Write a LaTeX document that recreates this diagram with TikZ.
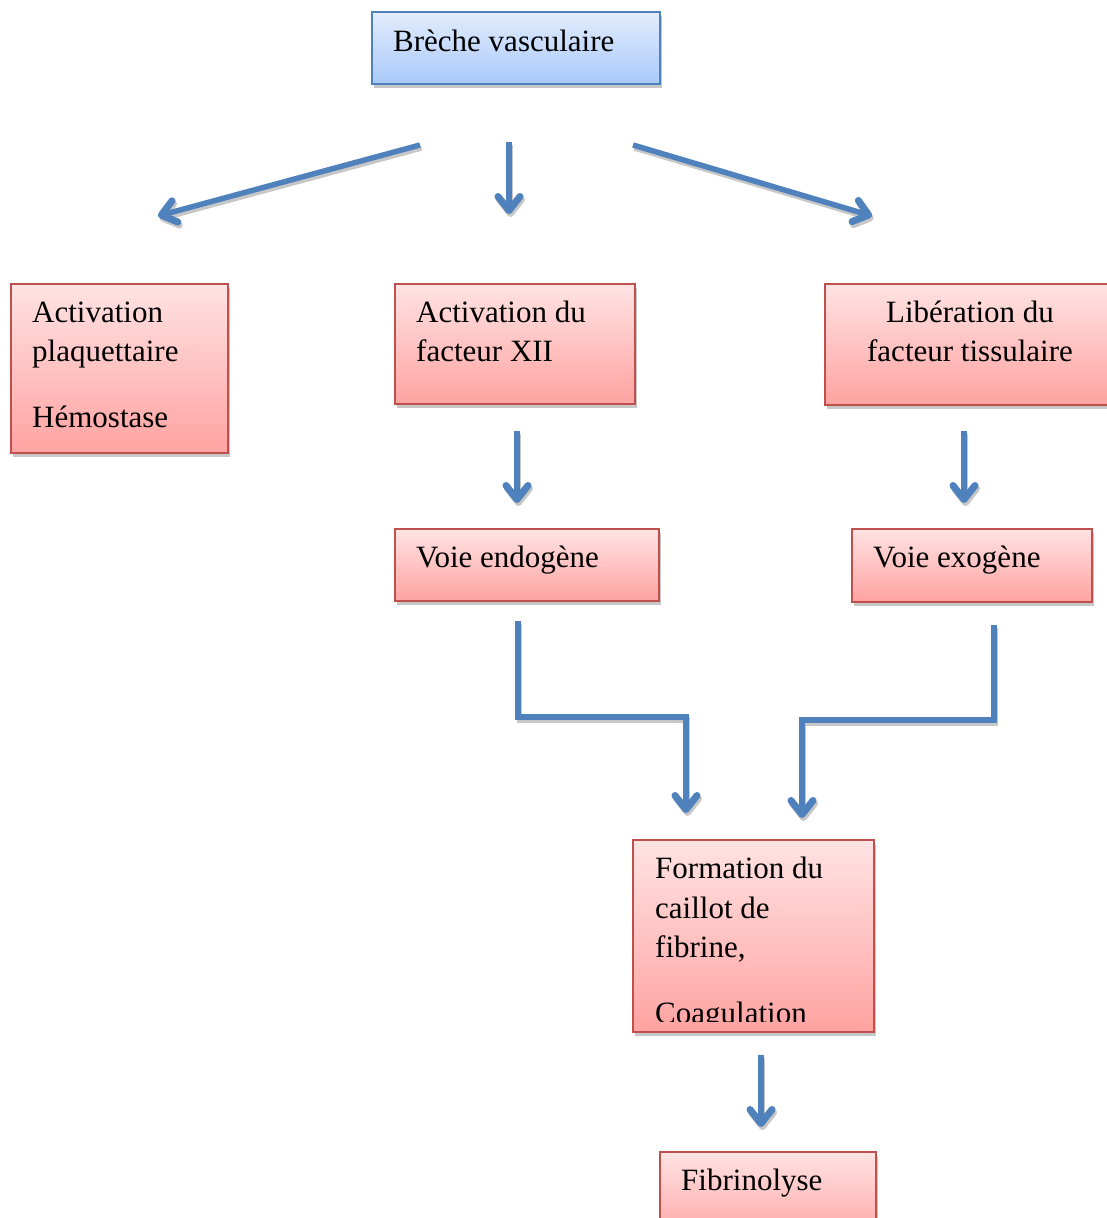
\documentclass[tikz,border=0pt]{standalone}
\usepackage{fontspec}
\setmainfont{Liberation Serif}
\usetikzlibrary{shadows,arrows.meta,calc}
\definecolor{arrowblue}{HTML}{4F81BD}
\definecolor{redborder}{HTML}{C0504D}
\definecolor{redtop}{HTML}{FFE3E3}
\definecolor{redbot}{HTML}{FFA3A1}
\definecolor{bluetop}{HTML}{E3EDFD}
\definecolor{bluebot}{HTML}{A9C9FA}
\begin{document}
\begin{tikzpicture}[x=1pt,y=-1pt,
  boxbase/.style={draw, line width=2pt, inner sep=0pt,
    drop shadow={shadow xshift=2pt, shadow yshift=-4pt, fill=black!22, opacity=1}},
  redbox/.style={boxbase, draw=redborder, top color=redtop, bottom color=redbot},
  bluebox/.style={boxbase, draw=arrowblue, top color=bluetop, bottom color=bluebot},
  txt/.style={anchor=base west, inner sep=0pt, font=\fontsize{31}{40}\selectfont},
  ctxt/.style={anchor=base, inner sep=0pt, font=\fontsize{31}{40}\selectfont},
  conn/.style={draw=arrowblue, line width=5.5pt,
    -{Straight Barb[length=14pt, width=22pt, line width=7pt, round]},
    preaction={draw=black!22, line width=5.5pt, transform canvas={xshift=1.5pt, yshift=-3pt},
      -{Straight Barb[length=14pt, width=22pt, line width=7pt, round]}}}
]
\useasboundingbox (0,0) rectangle (1107,1218);

% boxes
\node[bluebox, minimum width=288pt, minimum height=72pt] (breche) at (516,48) {};
\node[redbox, minimum width=217pt, minimum height=169pt] (plaq) at (119.5,368) {};
\node[redbox, minimum width=240pt, minimum height=120pt] (xii) at (515,344) {};
\node[redbox, minimum width=290pt, minimum height=121pt] (tissu) at (970,344) {};
\node[redbox, minimum width=264pt, minimum height=72pt] (endo) at (527,565) {};
\node[redbox, minimum width=240pt, minimum height=73pt] (exo) at (972,565) {};
\node[redbox, minimum width=241pt, minimum height=192pt] (caillot) at (753.5,936) {};
\node[redbox, minimum width=216pt, minimum height=90pt] (fibrino) at (768,1197) {};

% texts
\node[txt] (t0) at (393,51) {Brèche vasculaire};
\node[txt] (t1a) at (32,322) {Activation};
\node[txt] (t1b) at (32,361) {plaquettaire};
\node[txt] (t1c) at (32,427) {Hémostase};
\node[txt] (t2a) at (416,322) {Activation du};
\node[txt] (t2b) at (416,361) {facteur XII};
\node[ctxt] (t3a) at (970,322) {Libération du};
\node[ctxt] (t3b) at (970,361) {facteur tissulaire};
\node[txt] (t4) at (416,567) {Voie endogène};
\node[txt] (t5) at (873,567) {Voie exogène};
\node[txt] (t6a) at (655,878) {Formation du};
\node[txt] (t6b) at (655,918) {caillot de};
\node[txt] (t6c) at (655,957) {fibrine,};
\begin{scope}
  \clip (caillot.north west) rectangle (874,1021);
  \node[txt] (t6d) at (655,1023) {Coagulation};
\end{scope}
\node[txt] (t7) at (681,1190) {Fibrinolyse};

% connector end points
\coordinate (a1s) at (420,145);
\coordinate (a1e) at (158,216);
\coordinate (a2s) at (509,142);
\coordinate (a2e) at (509,214);
\coordinate (a3s) at (633,145);
\coordinate (a3e) at (872,216);
\coordinate (a4s) at (517,431);
\coordinate (a4e) at (517,503);
\coordinate (a5s) at (964,431);
\coordinate (a5e) at (964,503);
\coordinate (a6s) at (518,621);
\coordinate (a6e) at (686,813);
\coordinate (a7s) at (994,625);
\coordinate (a7e) at (802,818);
\coordinate (a8s) at (761,1055);
\coordinate (a8e) at (761,1127);

\draw[conn] (a1s) -- (a1e);
\draw[conn] (a2s) -- (a2e);
\draw[conn] (a3s) -- (a3e);
\draw[conn] (a4s) -- (a4e);
\draw[conn] (a5s) -- (a5e);
\draw[conn, line join=miter] (a6s) -- (518,717) -- (686,717) -- (a6e);
\draw[conn, line join=miter] (a7s) -- (994,720) -- (802,720) -- (a7e);
\draw[conn] (a8s) -- (a8e);
\end{tikzpicture}
\end{document}
